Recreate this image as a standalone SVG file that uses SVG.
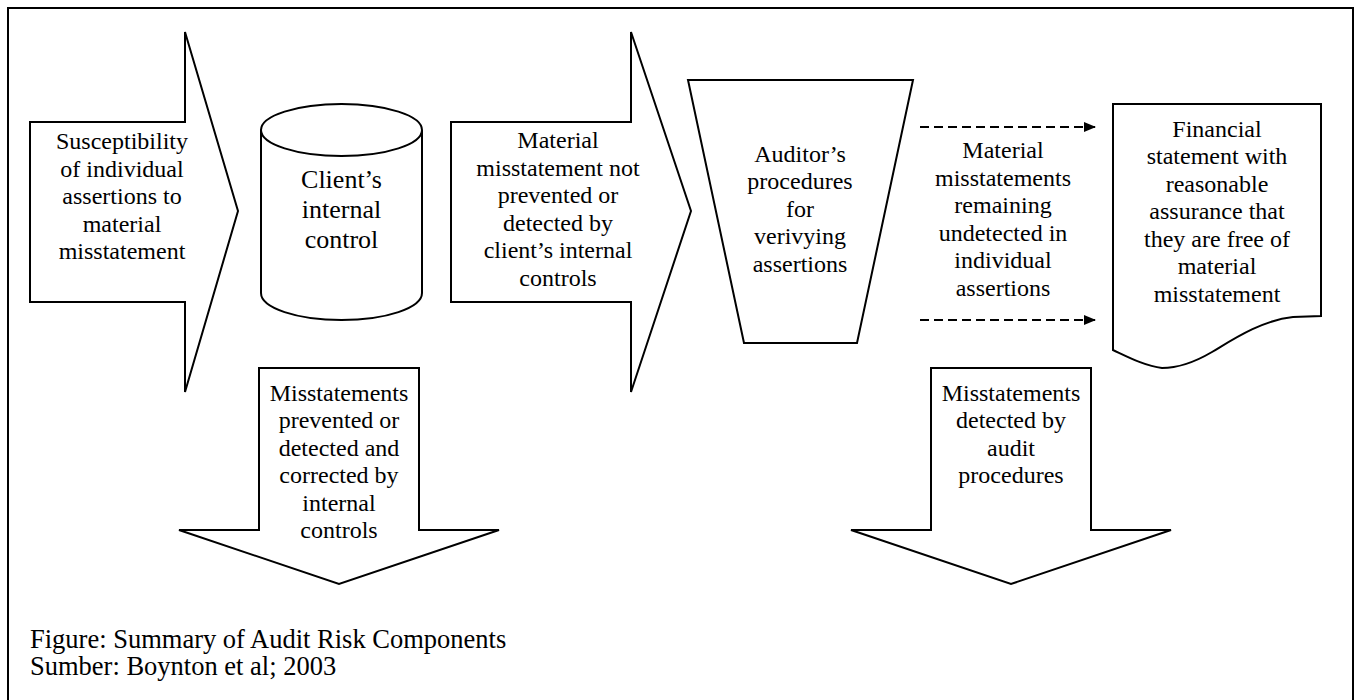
<svg xmlns="http://www.w3.org/2000/svg" width="1359" height="700" viewBox="0 0 1359 700">
<defs>
<style>
.s{fill:#fff;stroke:#000;stroke-width:2;stroke-linejoin:miter}
.t{font-family:"Liberation Serif","Times New Roman",serif;font-size:24px;fill:#000;text-anchor:middle}
.big{font-size:26px}
.cap{font-family:"Liberation Serif","Times New Roman",serif;font-size:26.5px;fill:#000}
.d{fill:none;stroke:#000;stroke-width:2;stroke-dasharray:9 5}
</style>
<marker id="ah" markerWidth="12" markerHeight="10" refX="11" refY="5" orient="auto" markerUnits="userSpaceOnUse">
<path d="M0,0 L12,5 L0,10 Z" fill="#000"/>
</marker>
</defs>
<rect width="1359" height="700" fill="#fff"/>
<rect x="8" y="8" width="1345" height="720" fill="none" stroke="#000" stroke-width="2"/>

<g id="arrow-susceptibility">
<path class="s" d="M30,122 H185 V32 L238,211 L185,392 V302 H30 Z"/>
<text class="t" x="122" y="149">Susceptibility</text>
<text class="t" x="122" y="177">of individual</text>
<text class="t" x="122" y="204">assertions to</text>
<text class="t" x="122" y="232">material</text>
<text class="t" x="122" y="259">misstatement</text>
</g>

<g id="client-internal-control">
<path class="s" d="M261,130 V293 A80.5,27 0 0 0 422,293 V130"/>
<ellipse class="s" cx="341.5" cy="130" rx="80.5" ry="26"/>
<text class="t big" x="341.5" y="188">Client’s</text>
<text class="t big" x="341.5" y="218">internal</text>
<text class="t big" x="341.5" y="248">control</text>
</g>

<g id="arrow-not-prevented">
<path class="s" d="M451,122 H631 V32 L691,211 L631,392 V302 H451 Z"/>
<text class="t" x="558" y="148">Material</text>
<text class="t" x="558" y="176">misstatement not</text>
<text class="t" x="558" y="203">prevented or</text>
<text class="t" x="558" y="231">detected by</text>
<text class="t" x="558" y="258">client’s internal</text>
<text class="t" x="558" y="286">controls</text>
</g>

<g id="auditor-procedures">
<path class="s" d="M688,80 H913 L857,343 H744 Z"/>
<text class="t" x="800" y="162">Auditor’s</text>
<text class="t" x="800" y="189">procedures</text>
<text class="t" x="800" y="217">for</text>
<text class="t" x="800" y="244">verivying</text>
<text class="t" x="800" y="272">assertions</text>
</g>

<g id="connectors">
<line class="d" x1="920" y1="127" x2="1095" y2="127" marker-end="url(#ah)"/>
<line class="d" x1="920" y1="320" x2="1095" y2="320" marker-end="url(#ah)"/>
</g>

<g id="label-remaining">
<text class="t" x="1003" y="158">Material</text>
<text class="t" x="1003" y="186">misstatements</text>
<text class="t" x="1003" y="213">remaining</text>
<text class="t" x="1003" y="241">undetected in</text>
<text class="t" x="1003" y="268">individual</text>
<text class="t" x="1003" y="296">assertions</text>
</g>

<g id="financial-statement">
<path class="s" d="M1113,104 H1321 V316 L1293,317 C1262,320 1232,340 1212,352 C1195,362 1180,368 1162,368 C1145,366 1128,357 1113,350 Z"/>
<text class="t" x="1217" y="137">Financial</text>
<text class="t" x="1217" y="164">statement with</text>
<text class="t" x="1217" y="192">reasonable</text>
<text class="t" x="1217" y="219">assurance that</text>
<text class="t" x="1217" y="247">they are free of</text>
<text class="t" x="1217" y="274">material</text>
<text class="t" x="1217" y="302">misstatement</text>
</g>

<g id="arrow-prevented-detected">
<path class="s" d="M259,368 H419 V530 H499 L339,584 L179,530 H259 Z"/>
<text class="t" x="339" y="401">Misstatements</text>
<text class="t" x="339" y="428">prevented or</text>
<text class="t" x="339" y="456">detected and</text>
<text class="t" x="339" y="483">corrected by</text>
<text class="t" x="339" y="511">internal</text>
<text class="t" x="339" y="538">controls</text>
</g>

<g id="arrow-detected-audit">
<path class="s" d="M931,368 H1091 V530 H1171 L1011,584 L851,530 H931 Z"/>
<text class="t" x="1011" y="401">Misstatements</text>
<text class="t" x="1011" y="428">detected by</text>
<text class="t" x="1011" y="456">audit</text>
<text class="t" x="1011" y="483">procedures</text>
</g>

<g id="caption">
<text class="cap" x="30" y="648">Figure: Summary of Audit Risk Components</text>
<text class="cap" x="30" y="675">Sumber: Boynton et al; 2003</text>
</g>
</svg>
